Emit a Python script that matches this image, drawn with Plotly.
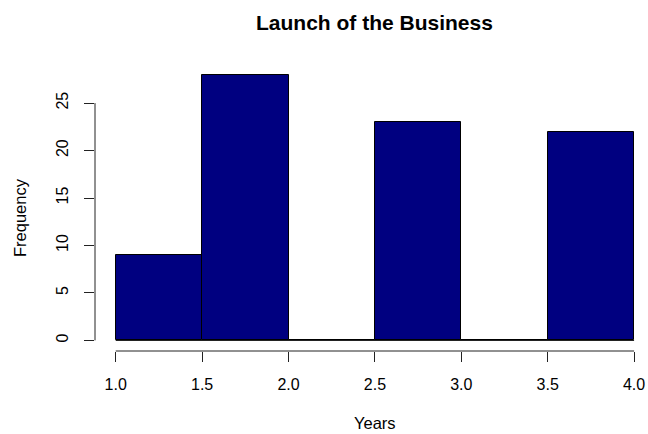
import plotly.graph_objects as go

bin_edges = [1.0, 1.5, 2.0, 2.5, 3.0, 3.5, 4.0]
counts = [9, 28, 0, 23, 0, 22]
x_ticks = [1.0, 1.5, 2.0, 2.5, 3.0, 3.5, 4.0]
x_tick_labels = ["1.0", "1.5", "2.0", "2.5", "3.0", "3.5", "4.0"]
y_ticks = [0, 5, 10, 15, 20, 25]

mids = [(a + b) / 2 for a, b in zip(bin_edges[:-1], bin_edges[1:])]
widths = [b - a for a, b in zip(bin_edges[:-1], bin_edges[1:])]

FONT = "Liberation Sans, Arial, sans-serif"
W, H = 648, 434
L, R, T, B = 95, 0, 64, 83
AXC = "#222222"

fig = go.Figure()
fig.add_trace(go.Bar(
    x=mids, y=counts, width=widths,
    marker=dict(color="#000080", line=dict(color="black", width=1)),
    hoverinfo="x+y",
))

# baseline of the histogram (zero-height bins in R still draw a border)
fig.add_shape(type="line", xref="x", yref="y",
              x0=bin_edges[0], x1=bin_edges[-1], y0=0, y1=0,
              line=dict(color="black", width=1))
# R-style axis lines spanning only the tick range
fig.add_shape(type="line", xref="x", yref="paper",
              x0=min(x_ticks), x1=max(x_ticks), y0=0, y1=0,
              line=dict(color=AXC, width=1))
fig.add_shape(type="line", xref="paper", yref="y",
              x0=0, x1=0, y0=min(y_ticks), y1=max(y_ticks),
              line=dict(color=AXC, width=1))

ymax = max(counts)
fig.update_layout(
    width=W, height=H,
    margin=dict(l=L, r=R, t=T, b=B),
    paper_bgcolor="white", plot_bgcolor="white",
    showlegend=False,
    font=dict(family=FONT, size=16, color="black"),
    bargap=0,
    xaxis=dict(
        range=[1 - 0.12, 1 + (W - L - 21) / 172.7],
        tickmode="array", tickvals=x_ticks, ticktext=x_tick_labels,
        ticks="outside", ticklen=10, tickwidth=1, tickcolor=AXC,
        ticklabelstandoff=9,
        showline=False, showgrid=False, zeroline=False,
        tickfont=dict(size=16),
    ),
    yaxis=dict(
        range=[-0.04 * ymax, 1.04 * ymax],
        tickmode="array", tickvals=y_ticks,
        ticks="outside", ticklen=10, tickwidth=1, tickcolor=AXC,
        tickangle=-90, ticklabelstandoff=10,
        showline=False, showgrid=False, zeroline=False,
        tickfont=dict(size=16),
    ),
    annotations=[
        dict(text="<b>Launch of the Business</b>", xref="paper", yref="paper",
             x=(374.5 - L) / (W - L - R), y=1, yshift=42, showarrow=False,
             font=dict(size=21, family=FONT), xanchor="center", yanchor="middle"),
        dict(text="Years", xref="paper", yref="paper",
             x=(374.5 - L) / (W - L - R), y=0, yshift=-72, showarrow=False,
             font=dict(size=16.5, family=FONT), xanchor="center", yanchor="middle"),
        dict(text="Frequency", xref="paper", yref="paper",
             x=0, xshift=-75, y=(340 - 207) / (434 - T - B), showarrow=False,
             textangle=-90,
             font=dict(size=16.5, family=FONT), xanchor="center", yanchor="middle"),
    ],
)

fig.write_html("out.html")
